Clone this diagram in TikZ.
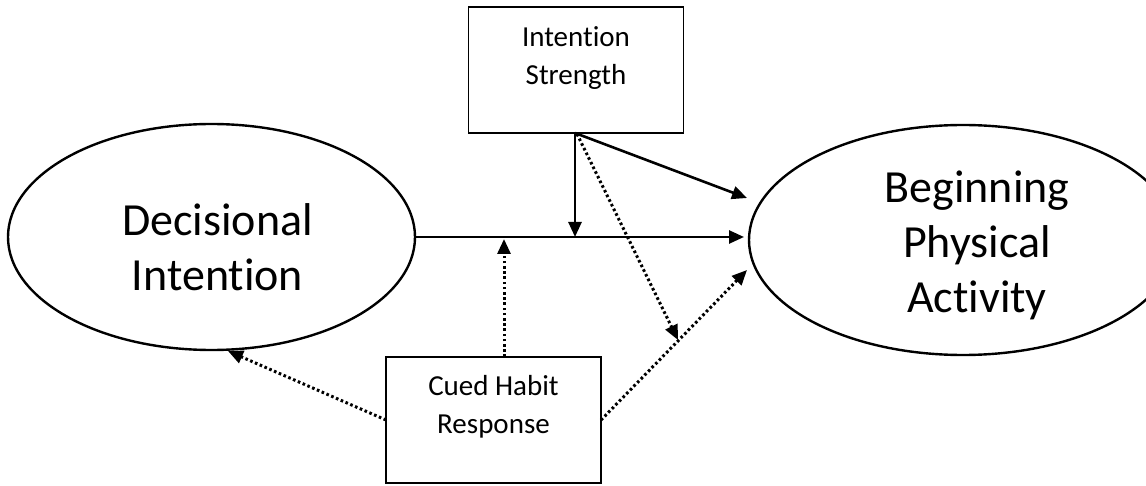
\documentclass[tikz,border=0pt]{standalone}
\usepackage{fontspec}
\setmainfont[Ligatures=NoCommon]{Carlito}
\usetikzlibrary{arrows.meta,shapes.geometric}
\begin{document}
\begin{tikzpicture}[x=1pt,y=-1pt,
  oval/.style={ellipse, draw, line width=2.4pt, inner sep=0pt},
  boxnode/.style={draw, line width=1.5pt, minimum width=215pt, minimum height=126pt, inner sep=0pt},
  bigtext/.style={font=\fontsize{46}{55}\selectfont, align=center},
  smalltext/.style={font=\fontsize{29}{38}\selectfont, align=center, anchor=north},
  solidarrow/.style={line width=2.6pt, -{Triangle[length=15pt,width=13pt]}},
  dotarrow/.style={line width=3pt, dash pattern=on 2.6pt off 2.6pt, -{Triangle[length=15pt,width=13pt]}}
]
\useasboundingbox (0,0) rectangle (1146,486);
\begin{scope}
\clip (0,0) rectangle (1146,486);
% ellipses
\node[oval, minimum width=407pt, minimum height=226pt,
  label={[bigtext, xshift=6pt, yshift=-10pt]center:Decisional\\Intention}] (di) at (211.5,237) {};
\node[oval, minimum width=428pt, minimum height=230pt,
  label={[bigtext, xshift=14pt, yshift=-5pt]center:Beginning\\Physical\\Activity}] (bpa) at (963,240) {};
\end{scope}
% boxes
\node[boxnode] (is) at (576,70) {};
\node[smalltext] (ist) at (576,23) {Intention\\Strength};
\node[boxnode] (chr) at (493.5,420) {};
\node[smalltext] (chrt) at (493.5,372) {Cued Habit\\Response};
% coordinates
\coordinate (isb) at (575,133);
\coordinate (isb2) at (577,134);
\coordinate (mainstart) at (415,237);
\coordinate (mainend) at (744,237);
\coordinate (mod1) at (575,237);
\coordinate (mod2) at (504,239);
\coordinate (bpatop) at (747,198);
\coordinate (bpalow) at (747,270);
\coordinate (cross) at (678,340);
\coordinate (dibot) at (228,351);
\coordinate (chrtop) at (504,357);
\coordinate (chrleft) at (386,420);
\coordinate (chrright) at (601,420);
% connectors
\draw[solidarrow] (mainstart) -- (mainend);
\draw[solidarrow] (isb) -- (mod1);
\draw[solidarrow] (isb) -- (bpatop);
\draw[dotarrow] (isb2) -- (cross);
\draw[dotarrow] (chrtop) -- (mod2);
\draw[dotarrow] (chrleft) -- (dibot);
\draw[dotarrow] (chrright) -- (bpalow);
\end{tikzpicture}
\end{document}
